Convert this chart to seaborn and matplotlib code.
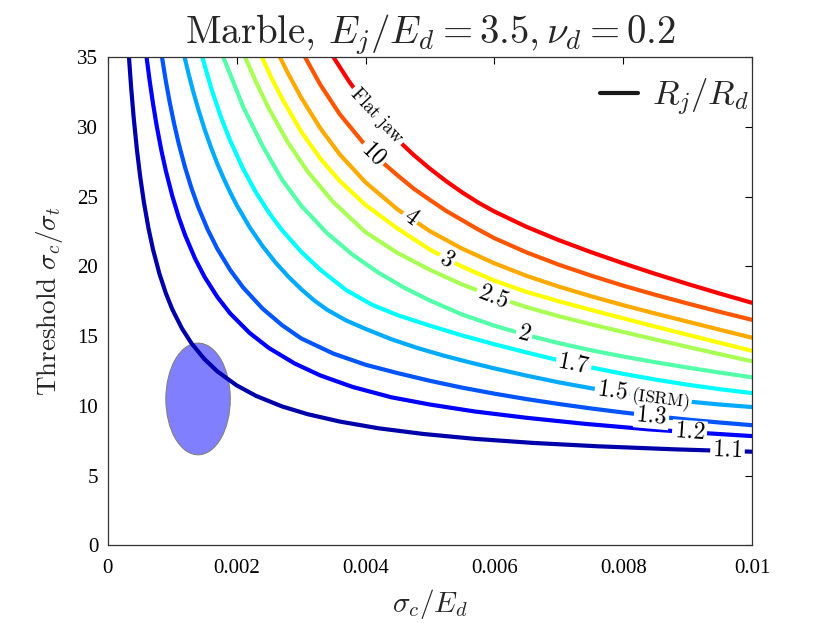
import numpy as np
import pandas as pd
import seaborn as sns
import matplotlib
matplotlib.use('Agg')
import matplotlib.pyplot as plt
from matplotlib.patches import Ellipse

# Threshold curves, one per jaw radius ratio R_j/R_d
ratio_labels = ['1.1', '1.2', '1.3', '1.5', '1.7', '2', '2.5', '3', '4', '10', 'Flat jaw']

x_1_1 = [0.000327, 0.00036, 0.0004, 0.00045, 0.0005, 0.00056, 0.00063, 0.0007, 0.0008, 0.0009, 0.001,
         0.00115, 0.0013, 0.0015, 0.0017, 0.002, 0.0023, 0.0027, 0.0031, 0.0036, 0.0042, 0.0049,
         0.0057, 0.0066, 0.0076, 0.0088, 0.01]
y_1_1 = [35.0, 32.86, 30.67, 28.38, 26.47, 24.56, 22.73, 21.22, 19.47, 18.07, 16.92,
         15.55, 14.47, 13.35, 12.47, 11.47, 10.72, 9.97, 9.41, 8.88, 8.40, 7.99,
         7.64, 7.35, 7.11, 6.89, 6.72]

x_1_2 = [0.0006, 0.00065, 0.0007, 0.00076, 0.00083, 0.0009, 0.001, 0.0011, 0.0012, 0.00135, 0.0015,
         0.0017, 0.0019, 0.0022, 0.0025, 0.0029, 0.0033, 0.0038, 0.0044, 0.005, 0.0057, 0.0065,
         0.0074, 0.0084, 0.0092, 0.01]
y_1_2 = [35.0, 33.24, 31.67, 30.0, 28.31, 26.84, 25.04, 23.52, 22.22, 20.59, 19.25,
         17.80, 16.62, 15.23, 14.15, 13.04, 12.18, 11.36, 10.62, 10.1, 9.6, 9.15,
         8.72, 8.32, 8.07, 7.84]

x_1_3 = [0.000839, 0.0009, 0.00096, 0.00103, 0.0011, 0.0012, 0.0013, 0.0014, 0.00155, 0.0017, 0.0019,
         0.0021, 0.0024, 0.0027, 0.003, 0.0035, 0.004, 0.0045, 0.005, 0.0055, 0.006, 0.0065,
         0.007, 0.0075, 0.008, 0.0085, 0.009, 0.0095, 0.01]
y_1_3 = [35.0, 33.26, 31.75, 30.18, 28.79, 27.06, 25.57, 24.28, 22.63, 21.25, 19.73,
         18.48, 16.98, 15.80, 14.84, 13.75, 12.95, 12.35, 11.80, 11.31, 10.88, 10.49,
         10.14, 9.82, 9.53, 9.26, 9.02, 8.81, 8.62]

x_1_5 = [0.00119, 0.00125, 0.00132, 0.0014, 0.0015, 0.0016, 0.0017, 0.0018, 0.0019, 0.002, 0.0022,
         0.0024, 0.0026, 0.0028, 0.003, 0.0032, 0.0034, 0.0037, 0.004, 0.0044, 0.0048, 0.0052,
         0.0056, 0.006, 0.0065, 0.007, 0.0075, 0.008, 0.0085, 0.009, 0.0095, 0.01]
y_1_5 = [35.0, 33.85, 32.60, 31.31, 29.84, 28.53, 27.34, 26.27, 25.29, 24.39, 22.81,
         21.46, 20.29, 19.27, 18.37, 17.57, 16.90, 16.12, 15.52, 14.78, 14.16, 13.62,
         13.14, 12.69, 12.17, 11.69, 11.27, 10.90, 10.58, 10.32, 10.10, 9.92]

x_1_7 = [0.001466, 0.0016, 0.00175, 0.0019, 0.0021, 0.0023, 0.0025, 0.0027, 0.003, 0.0033, 0.0037,
         0.0041, 0.0045, 0.005, 0.0055, 0.006, 0.0065, 0.007, 0.0075, 0.008, 0.0085, 0.009,
         0.0095, 0.01]
y_1_7 = [35.0, 32.83, 30.76, 28.99, 26.98, 25.29, 23.85, 22.61, 21.05, 19.75, 18.3,
         17.25, 16.5, 15.75, 15.05, 14.42, 13.83, 13.27, 12.76, 12.3, 11.89, 11.52,
         11.2, 10.92]

x_2 = [0.00179, 0.0019, 0.0021, 0.0024, 0.0027, 0.003, 0.0034, 0.0038, 0.0042, 0.0046, 0.005,
       0.0055, 0.006, 0.0065, 0.007, 0.0075, 0.008, 0.0085, 0.009, 0.0095, 0.01]
y_2 = [35.0, 33.75, 31.43, 28.64, 26.24, 24.35, 22.39, 20.83, 19.55, 18.47, 17.55,
       16.55, 15.75, 15.08, 14.50, 13.99, 13.54, 13.13, 12.75, 12.39, 12.05]

x_2_5 = [0.00213, 0.0023, 0.0025, 0.0028, 0.0031, 0.0035, 0.004, 0.0045, 0.005, 0.0055, 0.006,
         0.0065, 0.007, 0.0075, 0.008, 0.0085, 0.009, 0.0095, 0.01]
y_2_5 = [35.0, 33.2, 31.3, 28.84, 26.8, 24.6, 22.45, 20.95, 19.75, 18.70, 17.83,
         17.08, 16.43, 15.85, 15.30, 14.76, 14.23, 13.71, 13.20]

x_3 = [0.00239, 0.00255, 0.0027, 0.003, 0.0033, 0.0036, 0.004, 0.0045, 0.005, 0.0055, 0.006,
       0.0065, 0.007, 0.0075, 0.008, 0.0085, 0.009, 0.0095, 0.01]
y_3 = [35.0, 33.4, 32.06, 29.66, 27.71, 26.12, 24.40, 22.70, 21.20, 19.98, 18.98,
       18.17, 17.50, 16.88, 16.28, 15.68, 15.10, 14.52, 13.95]

x_4 = [0.00267, 0.0028, 0.003, 0.0033, 0.0036, 0.004, 0.0045, 0.005, 0.0055, 0.006, 0.0065,
       0.007, 0.0075, 0.008, 0.0085, 0.009, 0.0095, 0.01]
y_4 = [35.0, 33.8, 32.1, 29.88, 28.02, 26.02, 24.07, 22.52, 21.27, 20.22, 19.32,
       18.55, 17.86, 17.22, 16.62, 16.04, 15.46, 14.89]

x_10 = [0.00306, 0.0033, 0.0036, 0.004, 0.00425, 0.0045, 0.00475, 0.005, 0.00525, 0.0055, 0.00575,
        0.006, 0.0065, 0.007, 0.0075, 0.008, 0.0085, 0.009, 0.0095, 0.01]
y_10 = [35.0, 33.0, 30.9, 28.66, 27.5, 26.51, 25.56, 24.76, 23.98, 23.31, 22.64,
        22.02, 21.0, 20.12, 19.34, 18.62, 17.96, 17.34, 16.74, 16.17]

x_flat = [0.0035, 0.00375, 0.004, 0.00425, 0.0045, 0.00475, 0.005, 0.00525, 0.0055, 0.00575,
          0.006, 0.0065, 0.007, 0.0075, 0.008, 0.0085, 0.009, 0.0095, 0.01]
y_flat = [35.0, 33.21, 31.67, 30.27, 29.06, 27.97, 27.0, 26.11, 25.30, 24.57,
          23.93, 22.83, 21.88, 21.02, 20.22, 19.46, 18.74, 18.05, 17.39]

curve_x = [x_1_1, x_1_2, x_1_3, x_1_5, x_1_7, x_2, x_2_5, x_3, x_4, x_10, x_flat]
curve_y = [y_1_1, y_1_2, y_1_3, y_1_5, y_1_7, y_2, y_2_5, y_3, y_4, y_10, y_flat]

# Marble test data cloud (centre, width, height)
marble_center = (0.0014, 10.5)
marble_width = 0.0010
marble_height = 8.0

# Inline curve labels: text, x, y, rotation (deg), fontsize
curve_labels = [
    (r'$\mathrm{Flat\ jaw}$', 0.00418, 30.75, -47, 13.5),
    (r'$10$', 0.00413, 28.1, -44, 17),
    (r'$4$', 0.00470, 23.5, -36, 17),
    (r'$3$', 0.00526, 20.45, -32, 17),
    (r'$2.5$', 0.00598, 17.8, -21, 17),
    (r'$2$', 0.00646, 15.12, -15, 17),
    (r'$1.7$', 0.00723, 12.97, -11, 17),
    (r'$1.5$', 0.00783, 11.05, -8, 17),
    (r'$\mathrm{(ISRM)}$', 0.00858, 10.5, -7, 12.5),
    (r'$1.3$', 0.00844, 9.27, -5, 17),
    (r'$1.2$', 0.00903, 8.06, -4, 17),
    (r'$1.1$', 0.00962, 6.77, -2, 17),
]

# MATLAB-style jet(11)
jet11 = [(0, 0, 2/3), (0, 0, 1), (0, 1/3, 1), (0, 2/3, 1), (0, 1, 1), (1/3, 1, 2/3),
         (2/3, 1, 1/3), (1, 1, 0), (1, 2/3, 0), (1, 1/3, 0), (1, 0, 0)]

rows = []
for lab, xs, ys in zip(ratio_labels, curve_x, curve_y):
    for xv, yv in zip(xs, ys):
        rows.append({'ratio': lab, 'x': xv, 'y': yv})
df = pd.DataFrame(rows)

sns.set_theme(style='white')
plt.rcParams['font.family'] = ['Liberation Serif', 'DejaVu Serif']
plt.rcParams['mathtext.fontset'] = 'cm'

fig = plt.figure(figsize=(8.3, 6.23), dpi=100)
ax = fig.add_axes([0.130, 0.1244, 0.776, 0.7841])

ax.add_patch(Ellipse(marble_center, marble_width, marble_height, facecolor=(0.5, 0.5, 1.0),
                     edgecolor='grey', lw=0.8, zorder=1))

sns.lineplot(data=df, x='x', y='y', hue='ratio', hue_order=ratio_labels, palette=jet11,
             lw=3, legend=False, estimator=None, sort=False, ax=ax, zorder=2,
             solid_joinstyle='round')

# white boxes first (cut the gaps), then the text on top so boxes never hide a neighbour
for txt, xv, yv, rot, fs in curve_labels:
    ax.text(xv, yv, txt, rotation=rot, rotation_mode='anchor', ha='center', va='center',
            fontsize=fs, zorder=3, color='white',
            bbox=dict(facecolor='white', edgecolor='none', pad=1.5))
for txt, xv, yv, rot, fs in curve_labels:
    ax.text(xv, yv, txt, rotation=rot, rotation_mode='anchor', ha='center', va='center',
            fontsize=fs, zorder=4, color='black')

ax.plot([], [], color='k', lw=3, label=r'$R_j/R_d$')
ax.legend(loc='center right', bbox_to_anchor=(0.995, 0.918), frameon=False, fontsize=25,
          handlelength=1.1, handletextpad=0.4, borderpad=0, borderaxespad=0)

ax.set_xlim(0, 0.01)
ax.set_ylim(0, 35)
ax.set_xticks([0, 0.002, 0.004, 0.006, 0.008, 0.01])
ax.set_xticklabels(['0', '0.002', '0.004', '0.006', '0.008', '0.01'])
ax.set_yticks(range(0, 36, 5))
ax.tick_params(direction='in', top=True, right=True, length=5, width=0.8, labelsize=15, pad=7,
               colors='black')
ax.tick_params(axis='x', pad=10)
for sp in ax.spines.values():
    sp.set_visible(True)
    sp.set_color('#333333')
    sp.set_linewidth(0.9)

ax.set_title(r'$\mathrm{Marble,}\,E_j/E_d = 3.5, \nu_d = 0.2$', fontsize=28, pad=10)
ax.set_xlabel(r'$\sigma_c/E_d$', fontsize=21, labelpad=6)
ax.set_ylabel(r'$\mathrm{Threshold}\ \sigma_c/\sigma_t$', fontsize=19.5, labelpad=9)

fig.savefig('out.png', dpi=100, facecolor='white')
